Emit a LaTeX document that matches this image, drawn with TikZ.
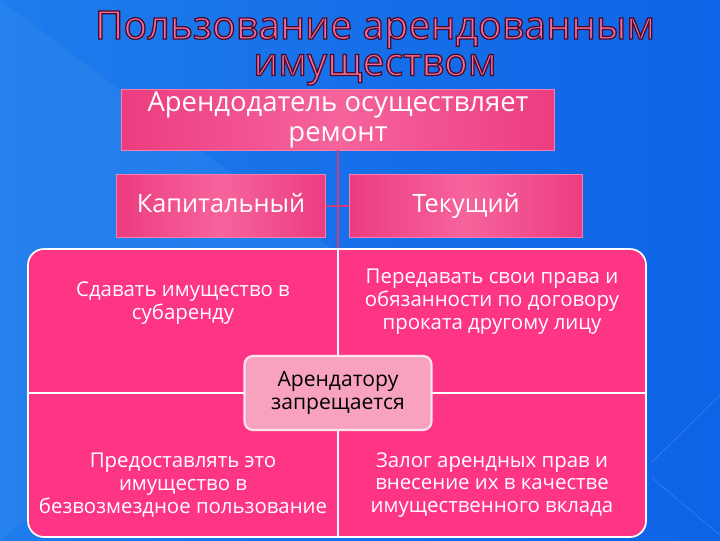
\documentclass[tikz,border=0pt]{standalone}
\usepackage{fontspec}
\setmainfont{Open Sans}
\usetikzlibrary{calc}
\definecolor{sky_left}{HTML}{1E7CEC}
\definecolor{sky_right}{HTML}{0E63E6}
\definecolor{sky_light}{HTML}{4A9CF0}
\definecolor{box_pink}{HTML}{EC3C80}
\definecolor{box_glow}{HTML}{F6649C}
\definecolor{edge_pink}{HTML}{F77FAE}
\definecolor{cell_pink}{HTML}{FD3584}
\definecolor{core_pink}{HTML}{F8A2C0}
\definecolor{link_pink}{HTML}{C8407E}
\definecolor{title_pink}{HTML}{F36C9C}
\newcommand{\outlined}[1]{\special{pdf:literal direct 0.29 0.04 0.16 RG 0.9 w 2 Tr}#1\special{pdf:literal direct 0 Tr}}

\begin{document}
\begin{tikzpicture}[x=0.025cm, y=0.025cm,
	box/.style={left color=box_pink, right color=box_pink, middle color=box_glow, draw=edge_pink, line width=0.7pt, text=white, align=center, inner sep=0pt, font=\fontsize{18}{21}\selectfont},
	cell/.style={fill=cell_pink, draw=white, line width=1.2pt},
	celltext/.style={text=white, align=center, font=\fontsize{14.5}{16.3}\selectfont},
	link/.style={draw=link_pink, line width=0.8pt},
	heading/.style={align=center, text=title_pink, font=\fontsize{28}{26}\selectfont}]
	\useasboundingbox (0, 0) rectangle (720, 540);
	\shade[left color=sky_left, right color=sky_right] (0, 0) rectangle (720, 540);
	\fill[sky_light, opacity=0.2] (0, 540) -- (340, 285) -- (0, 0) -- cycle;
	\draw[sky_light, opacity=0.6] (720, 145) -- (652, 78) (652, 62) -- (720, 5);

	\node[heading] (title) at (375, 492) {\outlined{Пользование арендованным}\\\outlined{имуществом}};

	\coordinate (gridtop) at (338, 291);
	\coordinate (gridmid) at (338, 147);
	\node[box, minimum width=10.825cm, minimum height=1.5cm, font=\fontsize{19.5}{21.5}\selectfont] (landlord) at (338, 420) {Арендодатель осуществляет\\ремонт};
	\node[box, minimum width=5.2cm, minimum height=1.55cm, text height=2.4ex, text depth=0.6ex] (major) at (221, 334) {Капитальный};
	\node[box, minimum width=5.8cm, minimum height=1.55cm, text height=2.4ex, text depth=0.6ex] (current) at (466, 334) {Текущий};
	\draw[link] (landlord.south) -- (gridtop);
	\draw[link] (major.east) -- (current.west);

	\draw[cell] (gridmid) -- (28, 147) -- (28, 275) arc[start angle=180, end angle=90, radius=16] -- (gridtop) -- cycle;
	\draw[cell] (gridtop) -- (630, 291) arc[start angle=90, end angle=0, radius=16] -- (646, 147) -- (gridmid) -- cycle;
	\draw[cell] (gridmid) -- (646, 147) -- (646, 19) arc[start angle=0, end angle=-90, radius=16] -- (338, 3) -- cycle;
	\draw[cell] (338, 3) -- (44, 3) arc[start angle=-90, end angle=-180, radius=16] -- (28, 147) -- (gridmid) -- cycle;

	\node[celltext] (sublet) at (183, 237) {Сдавать имущество в\\субаренду};
	\node[celltext] (transfer) at (492, 238) {Передавать свои права и\\обязанности по договору\\проката другому лицу};
	\node[celltext] (gratis) at (183, 55) {Предоставлять это\\имущество в\\безвозмездное пользование};
	\node[celltext] (pledge) at (492, 55) {Залог арендных прав и\\внесение их в качестве\\имущественного вклада};

	\node[fill=core_pink, draw=white!70!core_pink, line width=1.5pt, rounded corners=6pt, minimum width=4.675cm, minimum height=1.85cm, align=center, inner sep=0pt, font=\fontsize{15}{16.5}\selectfont] (tenant) at (gridmid) {Арендатору\\запрещается};
\end{tikzpicture}
\end{document}
